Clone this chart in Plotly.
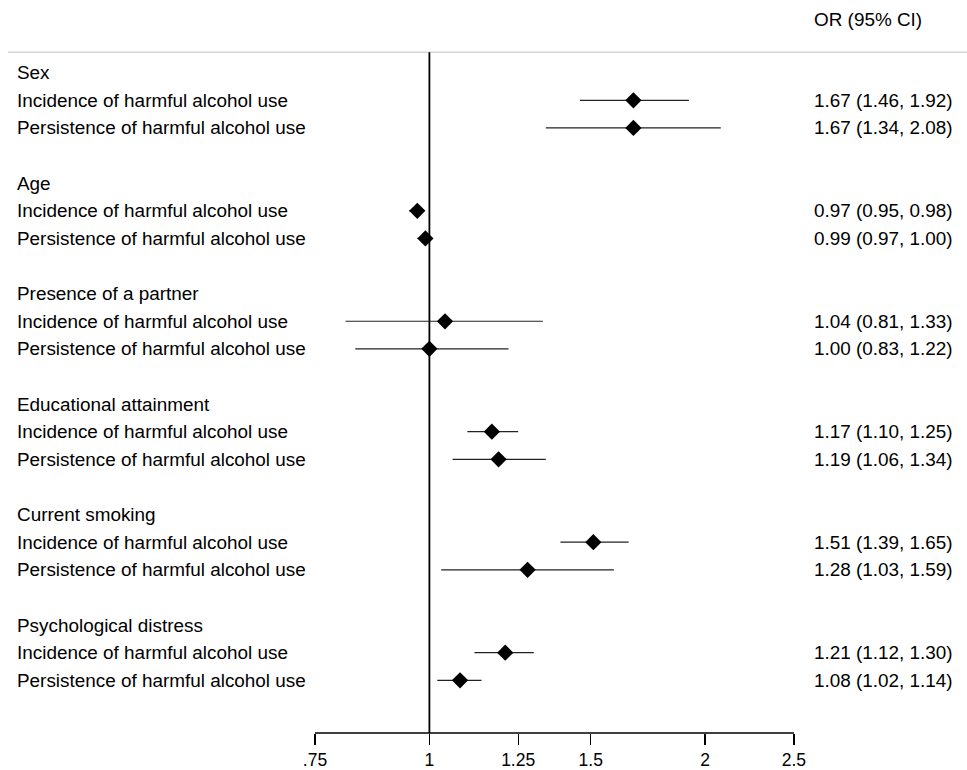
import plotly.graph_objects as go

groups = ["Sex", "Age", "Presence of a partner", "Educational attainment",
          "Current smoking", "Psychological distress"]
outcomes = ["Incidence of harmful alcohol use", "Persistence of harmful alcohol use"]
# OR, lower, upper per group: [incidence, persistence]
or_vals = [[1.67, 1.67], [0.97, 0.99], [1.04, 1.00], [1.17, 1.19], [1.51, 1.28], [1.21, 1.08]]
lo_vals = [[1.46, 1.34], [0.95, 0.97], [0.81, 0.83], [1.10, 1.06], [1.39, 1.03], [1.12, 1.02]]
hi_vals = [[1.92, 2.08], [0.98, 1.00], [1.33, 1.22], [1.25, 1.34], [1.65, 1.59], [1.30, 1.14]]
tick_vals = [0.75, 1, 1.25, 1.5, 2, 2.5]
tick_text = [".75", "1", "1.25", "1.5", "2", "2.5"]

FONT = "Liberation Sans, Arial, Helvetica, sans-serif"
FS = 18.9
W, H = 967, 770
MB = 34
PLOT_H = H - MB

xs, ys, em, ep = [], [], [], []
annotations = []
for g, name in enumerate(groups):
    base = 4 * g
    annotations.append(dict(x=15 / W, y=base, xref="paper", yref="y", text=name,
                            showarrow=False, xanchor="left", yanchor="middle",
                            font=dict(size=FS, color="black", family=FONT)))
    for k in range(2):
        r = base + 1 + k
        o, lo, hi = or_vals[g][k], lo_vals[g][k], hi_vals[g][k]
        xs.append(o); ys.append(r); em.append(o - lo); ep.append(hi - o)
        annotations.append(dict(x=15 / W, y=r, xref="paper", yref="y", text=outcomes[k],
                                showarrow=False, xanchor="left", yanchor="middle",
                                font=dict(size=FS, color="black", family=FONT)))
        annotations.append(dict(x=812 / W, y=r, xref="paper", yref="y",
                                text=f"{o:.2f} ({lo:.2f}, {hi:.2f})",
                                showarrow=False, xanchor="left", yanchor="middle",
                                font=dict(size=FS, color="black", family=FONT)))

row_px = 27.73
top_row_px = 73.0
y_bottom = (PLOT_H - top_row_px) / row_px
y_top = -top_row_px / row_px

annotations.append(dict(x=812 / W, y=(20 - top_row_px) / row_px, xref="paper", yref="y",
                        text="OR (95% CI)", showarrow=False, xanchor="left", yanchor="middle",
                        font=dict(size=FS, color="black", family=FONT)))

fig = go.Figure()
fig.add_trace(go.Scatter(
    x=xs, y=ys, mode="markers",
    marker=dict(symbol="diamond", size=12.5, color="black"),
    error_x=dict(type="data", symmetric=False, array=ep, arrayminus=em,
                 width=0, thickness=1.2, color="#222222"),
    showlegend=False, hoverinfo="skip"))

line_paper_y = 1 - 52.5 / PLOT_H
shapes = [
    dict(type="line", xref="paper", yref="paper", x0=8 / W, x1=1, y0=line_paper_y, y1=line_paper_y,
         line=dict(color="#d4d4d4", width=1.5), layer="below"),
    dict(type="line", xref="x", yref="paper", x0=1, x1=1, y0=0, y1=line_paper_y,
         line=dict(color="black", width=1.8), layer="below"),
    dict(type="line", xref="x", yref="paper", x0=tick_vals[0], x1=tick_vals[-1], y0=0, y1=0,
         line=dict(color="black", width=1.3)),
]

px_per_dec = 916.0
x1_px = 429.4
fig.update_layout(
    width=W, height=H,
    margin=dict(l=0, r=0, t=0, b=MB),
    paper_bgcolor="white", plot_bgcolor="white",
    shapes=shapes, annotations=annotations,
    xaxis=dict(type="log", range=[-x1_px / px_per_dec, (W - x1_px) / px_per_dec],
               tickvals=tick_vals, ticktext=tick_text, ticks="outside", ticklen=11,
               tickwidth=1.3, tickcolor="black", showgrid=False, zeroline=False,
               showline=False, tickfont=dict(size=17.5, color="black", family=FONT)),
    yaxis=dict(range=[y_bottom, y_top], visible=False, showgrid=False, zeroline=False),
)

fig.write_html("out.html", config={"displayModeBar": False, "staticPlot": True},
               post_script="document.body.style.margin='0';document.body.style.padding='0';")
